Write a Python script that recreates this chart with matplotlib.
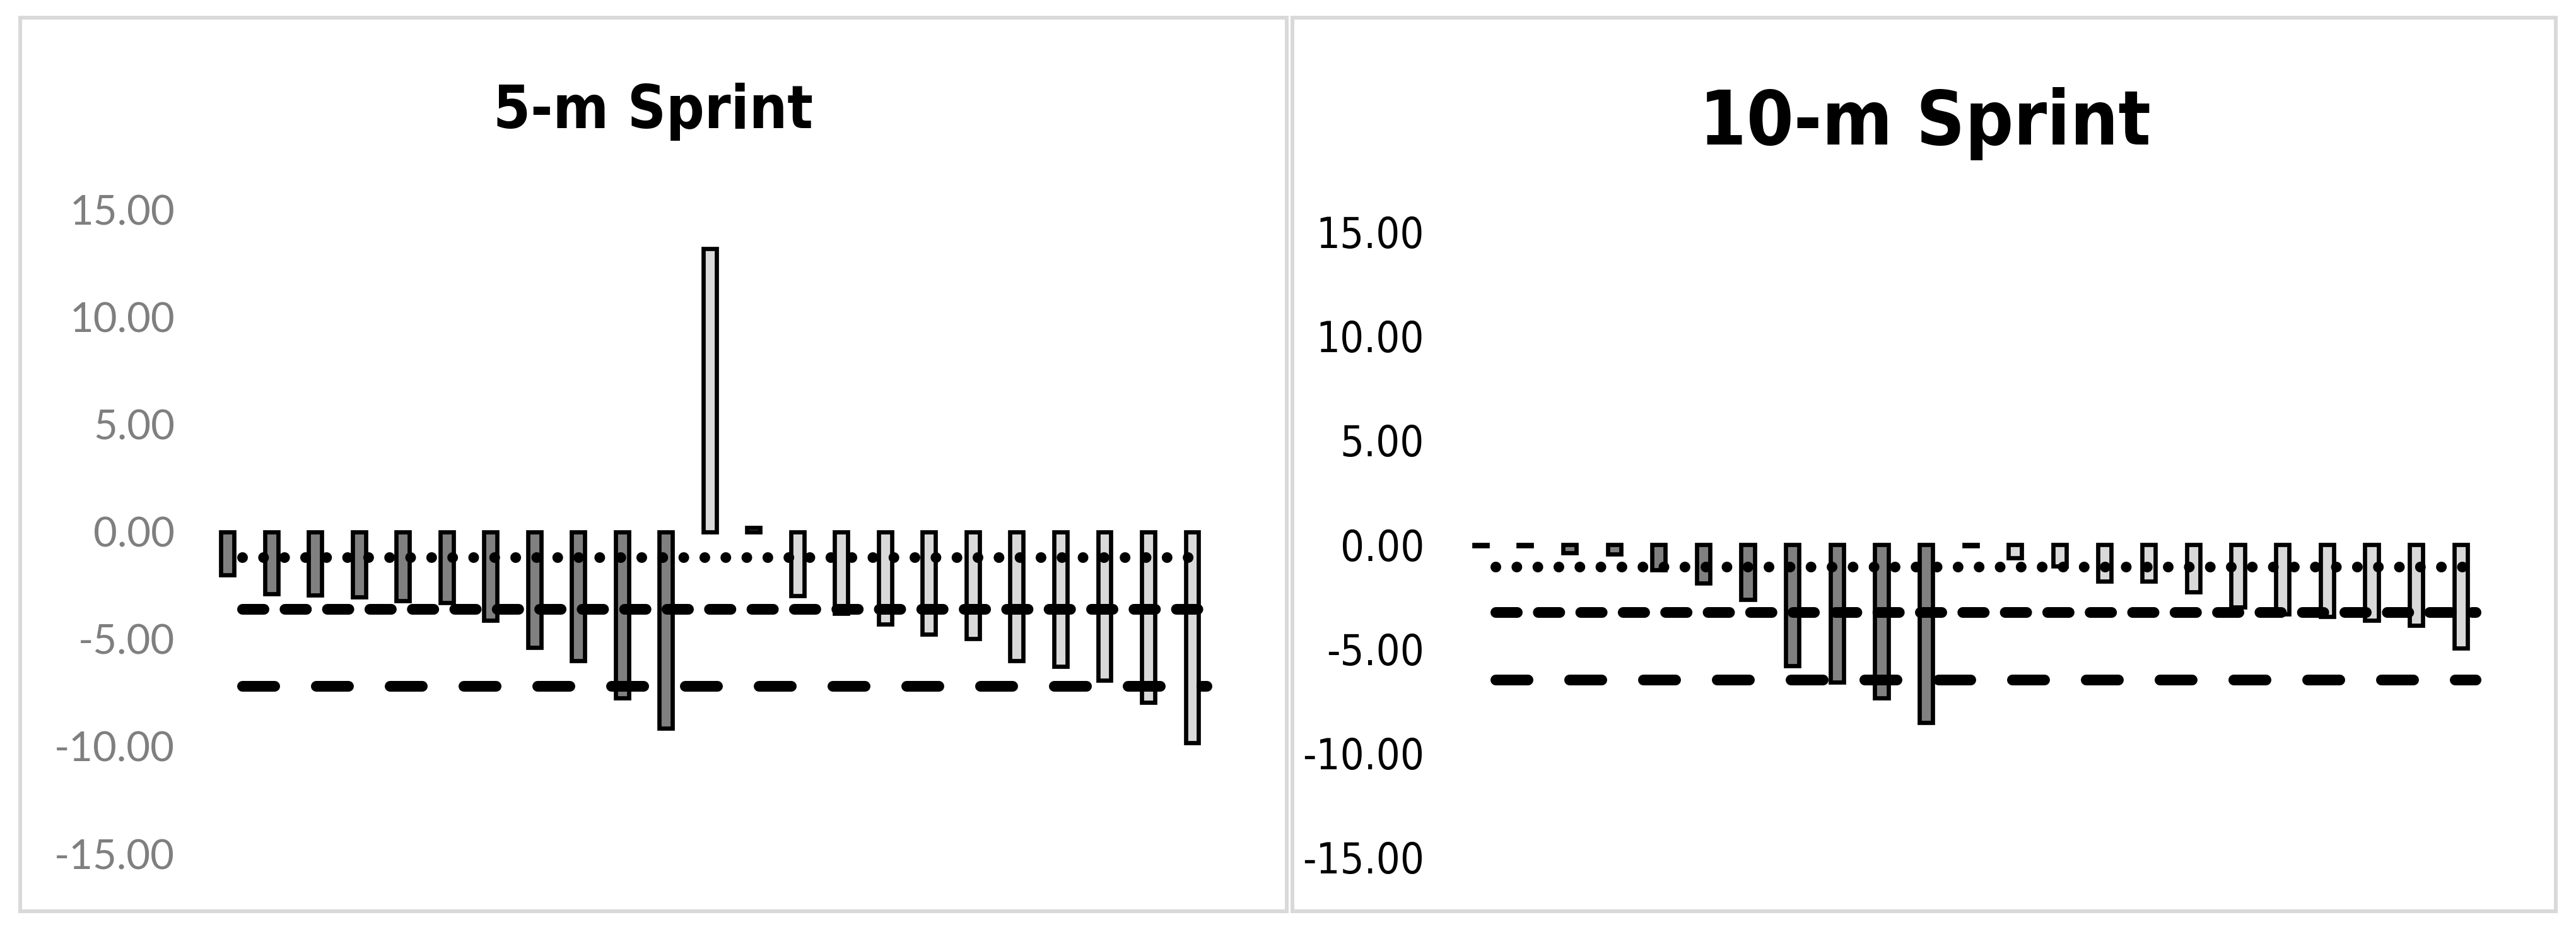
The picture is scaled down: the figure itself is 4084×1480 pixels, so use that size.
import matplotlib
matplotlib.use("Agg")
import matplotlib.pyplot as plt
import matplotlib.font_manager as fm
from matplotlib.patches import Rectangle

# ---------------- data ----------------
categories = list(range(1, 24))
sprint5_values = [-2.00, -2.88, -2.96, -3.04, -3.21, -3.30, -4.13, -5.40, -6.01, -7.75, -9.15,
                  13.19, 0.18, -2.97, -3.80, -4.29, -4.76, -4.98, -6.01, -6.28, -6.93, -7.94, -9.84]
sprint10_values = [-0.07, -0.08, -0.41, -0.48, -1.22, -1.85, -2.63, -5.83, -6.60, -7.37, -8.55,
                   -0.07, -0.66, -1.05, -1.76, -1.76, -2.28, -3.00, -3.33, -3.46, -3.63, -3.90, -4.97]
group_split = 11  # first 11 bars dark, remaining light
sprint5_lines = {"dotted": -1.20, "dashed": -3.61, "longdash": -7.17}
sprint10_lines = {"dotted": -1.08, "dashed": -3.24, "longdash": -6.48}
titles = ["5-m Sprint", "10-m Sprint"]
yticks = [15, 10, 5, 0, -5, -10, -15]
ytick_labels = ["15.00", "10.00", "5.00", "0.00", "-5.00", "-10.00", "-15.00"]

# ---------------- fonts ----------------
W, H = 4084, 1480
DPI = 100
PT = DPI / 72.0  # pixels per point
plt.rcParams["lines.scale_dashes"] = False

STRETCH_RANK = {"ultra-condensed": 1, "extra-condensed": 2, "condensed": 3,
                "semi-condensed": 4}


def _stretch_rank(f):
    s = f.stretch
    if isinstance(s, str):
        r = STRETCH_RANK.get(s.lower())
    else:
        r = None
        try:
            v = float(s)
            if v < 500:
                r = 1 + int(v // 125)
        except Exception:
            pass
    nm = (f.name + " " + f.fname).lower()
    if r is None:
        if "extracondensed" in nm.replace("-", "").replace(" ", "") or "extra condensed" in nm:
            r = 2
        elif "narrow" in nm or "condensed" in nm or "cond" in nm:
            r = 3
    return r


def _weight(f):
    w = f.weight
    if isinstance(w, str):
        return {"bold": 700, "black": 900, "heavy": 900, "semibold": 600, "demibold": 600,
                "medium": 500, "normal": 400, "regular": 400, "light": 300}.get(w.lower(), 400)
    return int(w)


def pick_narrow(bold):
    cands = []
    for f in fm.fontManager.ttflist:
        if f.style != "normal":
            continue
        r = _stretch_rank(f)
        if r is None:
            continue
        w = _weight(f)
        wscore = abs(w - (700 if bold else 400))
        cands.append((wscore, r, f.fname))
    if cands:
        cands.sort()
        return fm.FontProperties(fname=cands[0][2])
    return fm.FontProperties(family="DejaVu Sans", weight="bold" if bold else "normal")


title_fp = pick_narrow(True)
tick_fp_narrow = pick_narrow(False)

names = {f.name for f in fm.fontManager.ttflist}
label_font = "Lato" if "Lato" in names else "DejaVu Sans"

fig = plt.figure(figsize=(W / DPI, H / DPI), dpi=DPI)
fig.patch.set_facecolor("white")


def fig_rect(l, r, t, b):
    return [l / W, 1 - b / H, (r - l) / W, (b - t) / H]


# panel borders
for (l, r) in [(32, 2040), (2049, 4052)]:
    fig.add_artist(Rectangle((l / W, 1 - 1444 / H), (r - l) / W, (1444 - 28) / H,
                             transform=fig.transFigure, fill=False,
                             edgecolor="#d9d9d9", linewidth=6 / PT, zorder=0))

panels = [
    dict(values=sprint5_values, lines=sprint5_lines, c0=383.5, step=69.52,
         zero=842.6, unit=34.03, label_right=277, title=titles[0],
         title_x=1036, title_base=203, title_size=68,
         tick_fp=fm.FontProperties(family=label_font), tick_color="#7f7f7f", tick_size=47),
    dict(values=sprint10_values, lines=sprint10_lines, c0=2370.5, step=70.64,
         zero=862.6, unit=33.05, label_right=2258, title=titles[1],
         title_x=3052, title_base=229, title_size=86,
         tick_fp=tick_fp_narrow, tick_color="black", tick_size=48),
]

dark = "#808080"
light = "#d9d9d9"
lw_line = 17 / PT
styles = {
    "dotted": (0, (0.01, 33.3 / PT)),
    "dashed": (0, (34 / PT, 33.3 / PT)),
    "longdash": (0, (51 / PT, 66 / PT)),
}

for p in panels:
    left = p["c0"] - p["step"]
    right = p["c0"] + 23 * p["step"]
    top = p["zero"] - 15 * p["unit"]
    bottom = p["zero"] + 15 * p["unit"]
    ax = fig.add_axes(fig_rect(left, right, top, bottom))
    ax.set_xlim(-1, 23)
    ax.set_ylim(-15, 15)
    ax.patch.set_alpha(0)
    for s in ax.spines.values():
        s.set_visible(False)
    ax.set_xticks([])
    ax.set_yticks(yticks)
    tfp = p["tick_fp"].copy()
    tfp.set_size(p["tick_size"])
    ax.set_yticklabels(ytick_labels, fontproperties=tfp, color=p["tick_color"])
    ax.tick_params(axis="y", length=0, pad=(left - p["label_right"]) / PT)

    xs = [i for i in range(len(categories))]
    colors = [dark if i < group_split else light for i in xs]
    ax.bar([x - 0.33 for x in xs], p["values"], width=0.30, color=colors,
           edgecolor="black", linewidth=6.7 / PT, zorder=2)

    for key, val in p["lines"].items():
        ax.plot([0, len(categories) - 1], [val, val], color="black", linewidth=lw_line,
                linestyle=styles[key], dash_capstyle="round", solid_capstyle="round",
                zorder=3)

    hfp = title_fp.copy()
    hfp.set_size(p["title_size"])
    fig.text(p["title_x"] / W, 1 - p["title_base"] / H, p["title"], ha="center",
             va="baseline", fontproperties=hfp, color="black")

fig.savefig("out.png", dpi=DPI, facecolor="white")
